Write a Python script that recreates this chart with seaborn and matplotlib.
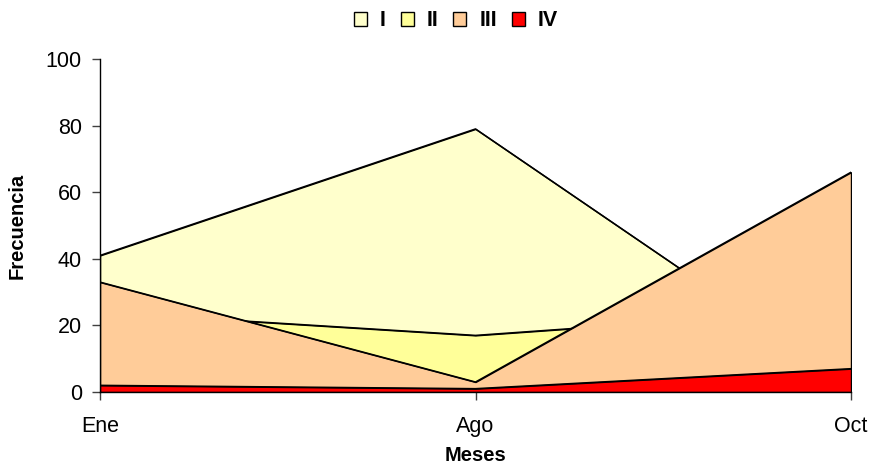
import matplotlib
matplotlib.use("Agg")
import matplotlib.pyplot as plt
import seaborn as sns
import pandas as pd
from matplotlib.patches import Patch

months = ["Ene", "Ago", "Oct"]
series_names = ["I", "II", "III", "IV"]
serie_I = [41, 79, 2]
serie_II = [24, 17, 25]
serie_III = [33, 3, 66]
serie_IV = [2, 1, 7]
colors = ["#FFFFCC", "#FFFF99", "#FFCC99", "#FF0000"]
yticks = [0, 20, 40, 60, 80, 100]

sns.set_theme(style="ticks")
plt.rcParams['font.family'] = ['Liberation Sans', 'DejaVu Sans']
plt.rcParams['text.color'] = 'black'
plt.rcParams['axes.labelcolor'] = 'black'

df = pd.DataFrame({"mes": list(range(len(months))) * 4,
                   "serie": sum([[s] * len(months) for s in series_names], []),
                   "valor": serie_I + serie_II + serie_III + serie_IV})

fig = plt.figure(figsize=(8.72, 4.65), dpi=100)
ax = fig.add_axes([100/872, 1-392/465, 751/872, 333/465])

for i, (name, col) in enumerate(zip(series_names, colors)):
    sub = df[df.serie == name]
    ax.fill_between(sub.mes, 0, sub.valor, facecolor=col, edgecolor="black",
                    linewidth=1.0, zorder=2 + 2 * i)
    sns.lineplot(x=sub.mes, y=sub.valor, ax=ax, color="black", linewidth=1.1,
                 zorder=3 + 2 * i, legend=False)

ax.set_xlim(0, 2)
ax.set_ylim(0, 100)
ax.set_yticks(yticks)
ax.set_xticks(range(len(months)))
ax.set_xticklabels(months)
ax.tick_params(axis="both", labelsize=15.5, direction="out", length=6, width=1,
               color="#404040", labelcolor="black")
ax.tick_params(axis="x", pad=11)
ax.tick_params(axis="y", pad=7)
ax.set_xlabel("Meses", fontsize=14.5, fontweight="bold", labelpad=7)
ax.set_ylabel("Frecuencia", fontsize=14.5, fontweight="bold", labelpad=14)
for s in ["top", "right"]:
    ax.spines[s].set_visible(False)
for s in ["left", "bottom"]:
    ax.spines[s].set_color("black")
    ax.spines[s].set_linewidth(1.0)
    ax.spines[s].set_zorder(20)

handles = [Patch(facecolor=c, edgecolor="black", linewidth=1.0) for c in colors]
leg = fig.legend(handles, series_names, loc="center", bbox_to_anchor=(0.523, 1 - 21/465), ncol=4,
                 frameon=False, prop={"weight": "bold", "size": 15.5},
                 handlelength=0.6, handleheight=0.6, handletextpad=0.6, columnspacing=0.7,
                 borderpad=0.1)

fig.savefig("out.png", dpi=100)
